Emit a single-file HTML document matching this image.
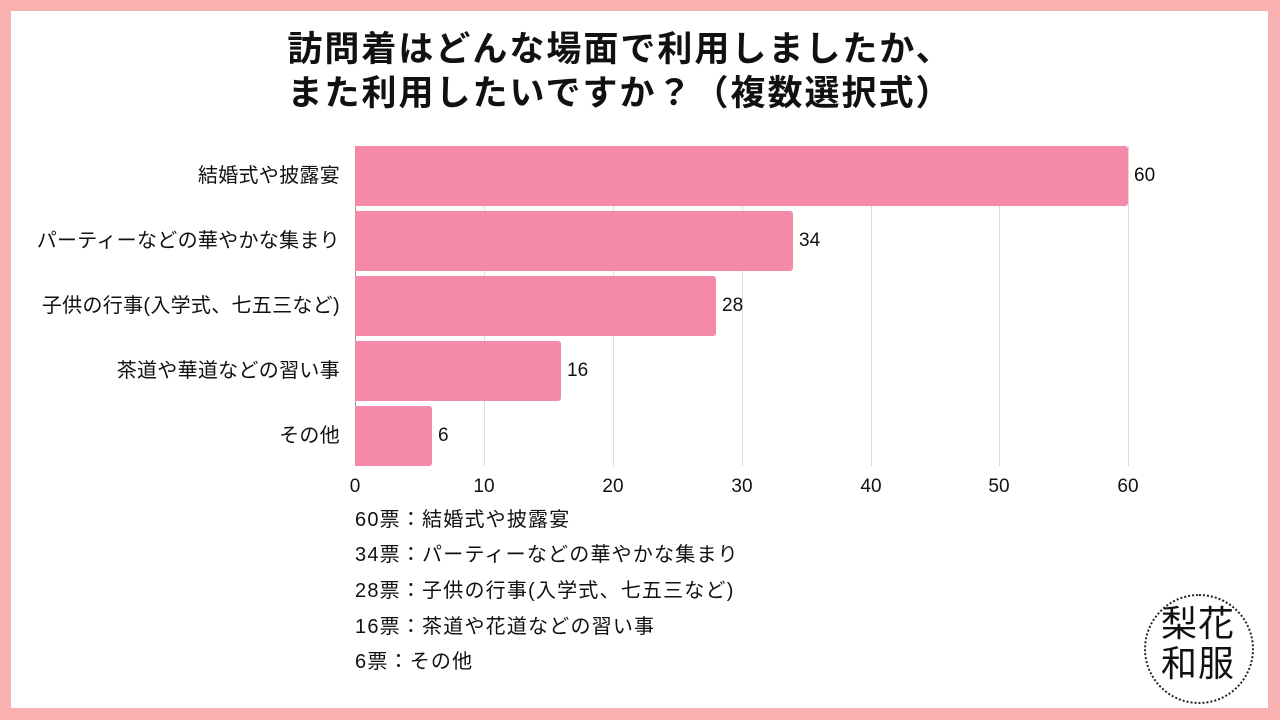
<!DOCTYPE html>
<html><head><meta charset="utf-8"><style>
body{margin:0;width:1280px;height:720px;background:#f9b0b0;position:relative;overflow:hidden;font-family:"Liberation Sans","Noto Sans CJK JP",sans-serif;color:#111}
.in{position:absolute;left:11px;top:11px;width:1257px;height:697px;background:#fff}
.t{position:absolute;left:0;width:1240px;text-align:center;font-size:35px;font-weight:bold;line-height:44px;letter-spacing:2px}
.g{position:absolute;top:146px;height:320px;width:1px;background:#ddd}
.b{position:absolute;left:355px;height:60px;background:#f48aa8;border-radius:0 3px 3px 0}
.l{position:absolute;right:940px;font-size:20px;line-height:24px;white-space:nowrap;letter-spacing:0.3px}
.v{position:absolute;font-size:19px;line-height:24px}
.x{position:absolute;top:476px;font-size:19px;width:40px;text-align:center;margin-left:-20px}
.lg{position:absolute;left:355px;font-size:20px;line-height:24px;letter-spacing:1.2px}
</style></head><body>
<div class="in"></div>
<div class="t" style="top:28px">訪問着はどんな場面で利用しましたか、</div>
<div class="t" style="top:72px">また利用したいですか？（複数選択式）</div>
<div class="g" style="left:355px;background:#999"></div>
<div class="g" style="left:484px"></div><div class="g" style="left:613px"></div><div class="g" style="left:742px"></div><div class="g" style="left:871px"></div><div class="g" style="left:999px"></div><div class="g" style="left:1128px"></div>
<div class="b" style="top:146px;width:773px"></div>
<div class="b" style="top:211px;width:438px"></div>
<div class="b" style="top:276px;width:361px"></div>
<div class="b" style="top:341px;width:206px"></div>
<div class="b" style="top:406px;width:77px"></div>
<div class="l" style="top:164px">結婚式や披露宴</div>
<div class="l" style="top:229px">パーティーなどの華やかな集まり</div>
<div class="l" style="top:294px">子供の行事(入学式、七五三など)</div>
<div class="l" style="top:359px">茶道や華道などの習い事</div>
<div class="l" style="top:424px">その他</div>
<div class="v" style="top:164px;left:1134px">60</div>
<div class="v" style="top:229px;left:799px">34</div>
<div class="v" style="top:294px;left:722px">28</div>
<div class="v" style="top:359px;left:567px">16</div>
<div class="v" style="top:424px;left:438px">6</div>
<div class="x" style="left:355px">0</div><div class="x" style="left:484px">10</div><div class="x" style="left:613px">20</div><div class="x" style="left:742px">30</div><div class="x" style="left:871px">40</div><div class="x" style="left:999px">50</div><div class="x" style="left:1128px">60</div>
<div class="lg" style="top:508px">60票：結婚式や披露宴</div>
<div class="lg" style="top:543px">34票：パーティーなどの華やかな集まり</div>
<div class="lg" style="top:579px">28票：子供の行事(入学式、七五三など)</div>
<div class="lg" style="top:615px">16票：茶道や花道などの習い事</div>
<div class="lg" style="top:650px">6票：その他</div>
<div style="position:absolute;left:1144px;top:594px;width:106px;height:106px;border:2px dotted #222;border-radius:50%"></div>
<div style="position:absolute;left:1158px;top:604px;width:80px;font-size:36px;line-height:40px;text-align:center;letter-spacing:1px">梨花<br>和服</div>
</body></html>
